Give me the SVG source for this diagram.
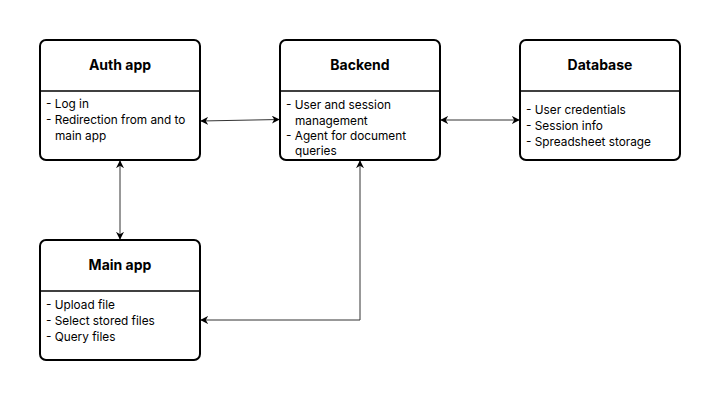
<svg xmlns="http://www.w3.org/2000/svg" width="720" height="400" viewBox="0 0 720 400">
<style>
.box{fill:#fff;stroke:#000;stroke-width:2}
.div{stroke:#000;stroke-width:1.3}
.t{font-family:Inter,"Liberation Sans",sans-serif;font-size:14px;font-weight:bold;text-anchor:middle;fill:#000}
.b{font-family:Inter,"Liberation Sans",sans-serif;font-size:11.8px;fill:#000}
.c{fill:none;stroke:#333;stroke-width:1;marker-start:url(#a);marker-end:url(#a)}
</style>
<defs>
<marker id="a" viewBox="0 0 10 10" refX="9" refY="5" markerWidth="8" markerHeight="8" orient="auto-start-reverse" markerUnits="userSpaceOnUse">
<path d="M0,0 L10,5 L0,10 L3,5 Z" fill="#000"/>
</marker>
</defs>
<rect width="720" height="400" fill="#fff"/>
<g id="connectors">
<path class="c" d="M201,121 L279,119.5"/>
<path class="c" d="M441,120 L519,120"/>
<path class="c" d="M120,161 L120,239"/>
<path class="c" d="M360,161 L360,320 L201,320"/>
</g>
<g id="auth">
<rect class="box" x="40" y="40" width="160" height="120" rx="6"/>
<line class="div" x1="40" y1="91" x2="200" y2="91"/>
<text class="t" x="120" y="70">Auth app</text>
<text class="b" x="46" y="108">- Log in</text>
<text class="b" x="46" y="124">- Redirection from and to</text>
<text class="b" x="55" y="140">main app</text>
</g>
<g id="backend">
<rect class="box" x="280" y="40" width="160" height="120" rx="6"/>
<line class="div" x1="280" y1="91" x2="440" y2="91"/>
<text class="t" x="360" y="70">Backend</text>
<text class="b" x="286" y="109">- User and session</text>
<text class="b" x="295" y="124.5">management</text>
<text class="b" x="286" y="140">- Agent for document</text>
<text class="b" x="295" y="155">queries</text>
</g>
<g id="database">
<rect class="box" x="520" y="40" width="160" height="120" rx="6"/>
<line class="div" x1="520" y1="91" x2="680" y2="91"/>
<text class="t" x="600" y="70">Database</text>
<text class="b" x="526" y="114">- User credentials</text>
<text class="b" x="526" y="130">- Session info</text>
<text class="b" x="526" y="146">- Spreadsheet storage</text>
</g>
<g id="main">
<rect class="box" x="40" y="240" width="160" height="120" rx="6"/>
<line class="div" x1="40" y1="291" x2="200" y2="291"/>
<text class="t" x="120" y="270">Main app</text>
<text class="b" x="46" y="309">- Upload file</text>
<text class="b" x="46" y="325">- Select stored files</text>
<text class="b" x="46" y="341">- Query files</text>
</g>
</svg>
